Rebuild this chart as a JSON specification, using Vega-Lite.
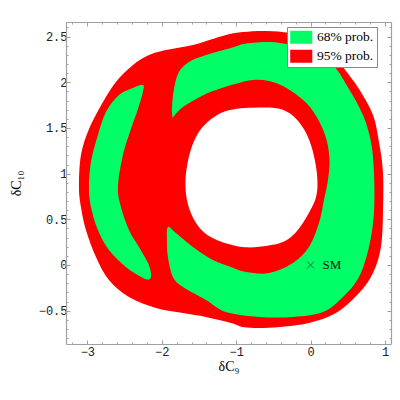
{
  "$schema": "https://vega.github.io/schema/vega-lite/v6.json",
  "width": 325,
  "height": 322,
  "autosize": {"type": "none"},
  "padding": {"left": 66, "top": 22, "right": 9, "bottom": 56},
  "background": "white",
  "config": {
    "view": {"stroke": null},
    "axis": {
      "domainColor": "#a0a0a0",
      "domainWidth": 1.2,
      "tickColor": "#a0a0a0",
      "tickWidth": 1,
      "grid": false,
      "labelFont": "Liberation Mono",
      "labelFontSize": 12,
      "labelColor": "#222222",
      "labelOverlap": false,
      "labelFlush": false,
      "titleFont": "Liberation Serif",
      "titleFontSize": 14,
      "titleFontWeight": "normal",
      "titleColor": "#000000"
    }
  },
  "data": {"values": [
    {"s":"r","p":"95% prob.","x":-0.599,"y":2.562},{"s":"r","p":"95% prob.","x":-0.909,"y":2.551},{"s":"r","p":"95% prob.","x":-1.137,"y":2.518},{"s":"r","p":"95% prob.","x":-1.581,"y":2.409},{"s":"r","p":"95% prob.","x":-1.944,"y":2.354},{"s":"r","p":"95% prob.","x":-2.172,"y":2.299},{"s":"r","p":"95% prob.","x":-2.387,"y":2.19},{"s":"r","p":"95% prob.","x":-2.616,"y":2.004},{"s":"r","p":"95% prob.","x":-2.79,"y":1.785},{"s":"r","p":"95% prob.","x":-2.978,"y":1.489},{"s":"r","p":"95% prob.","x":-3.086,"y":1.204},{"s":"r","p":"95% prob.","x":-3.113,"y":0.854},{"s":"r","p":"95% prob.","x":-3.086,"y":0.635},{"s":"r","p":"95% prob.","x":-3.019,"y":0.383},{"s":"r","p":"95% prob.","x":-2.884,"y":0.088},{"s":"r","p":"95% prob.","x":-2.71,"y":-0.164},{"s":"r","p":"95% prob.","x":-2.441,"y":-0.35},{"s":"r","p":"95% prob.","x":-2.078,"y":-0.471},{"s":"r","p":"95% prob.","x":-1.715,"y":-0.526},{"s":"r","p":"95% prob.","x":-1.406,"y":-0.569},{"s":"r","p":"95% prob.","x":-1.07,"y":-0.635},{"s":"r","p":"95% prob.","x":-0.909,"y":-0.679},{"s":"r","p":"95% prob.","x":-0.694,"y":-0.69},{"s":"r","p":"95% prob.","x":-0.411,"y":-0.679},{"s":"r","p":"95% prob.","x":-0.022,"y":-0.635},{"s":"r","p":"95% prob.","x":0.341,"y":-0.526},{"s":"r","p":"95% prob.","x":0.651,"y":-0.307},{"s":"r","p":"95% prob.","x":0.839,"y":-0.088},{"s":"r","p":"95% prob.","x":0.946,"y":0.197},{"s":"r","p":"95% prob.","x":0.973,"y":0.569},{"s":"r","p":"95% prob.","x":0.973,"y":1.018},{"s":"r","p":"95% prob.","x":0.919,"y":1.347},{"s":"r","p":"95% prob.","x":0.839,"y":1.642},{"s":"r","p":"95% prob.","x":0.651,"y":1.927},{"s":"r","p":"95% prob.","x":0.435,"y":2.168},{"s":"r","p":"95% prob.","x":0.261,"y":2.354},{"s":"r","p":"95% prob.","x":0.019,"y":2.475},{"s":"r","p":"95% prob.","x":-0.277,"y":2.54},

    {"s":"gL","p":"68% prob.","x":-2.253,"y":1.971},{"s":"gL","p":"68% prob.","x":-2.387,"y":1.938},{"s":"gL","p":"68% prob.","x":-2.575,"y":1.861},{"s":"gL","p":"68% prob.","x":-2.75,"y":1.675},{"s":"gL","p":"68% prob.","x":-2.858,"y":1.423},{"s":"gL","p":"68% prob.","x":-2.952,"y":1.128},{"s":"gL","p":"68% prob.","x":-2.978,"y":0.854},{"s":"gL","p":"68% prob.","x":-2.952,"y":0.635},{"s":"gL","p":"68% prob.","x":-2.858,"y":0.383},{"s":"gL","p":"68% prob.","x":-2.71,"y":0.164},{"s":"gL","p":"68% prob.","x":-2.482,"y":-0.022},{"s":"gL","p":"68% prob.","x":-2.253,"y":-0.142},{"s":"gL","p":"68% prob.","x":-2.159,"y":-0.153},{"s":"gL","p":"68% prob.","x":-2.145,"y":-0.088},{"s":"gL","p":"68% prob.","x":-2.185,"y":0.022},{"s":"gL","p":"68% prob.","x":-2.306,"y":0.197},{"s":"gL","p":"68% prob.","x":-2.441,"y":0.383},{"s":"gL","p":"68% prob.","x":-2.548,"y":0.635},{"s":"gL","p":"68% prob.","x":-2.589,"y":0.854},{"s":"gL","p":"68% prob.","x":-2.522,"y":1.204},{"s":"gL","p":"68% prob.","x":-2.414,"y":1.489},{"s":"gL","p":"68% prob.","x":-2.32,"y":1.708},{"s":"gL","p":"68% prob.","x":-2.253,"y":1.894},

    {"s":"gC","p":"68% prob.","x":-1.849,"y":1.599},{"s":"gC","p":"68% prob.","x":-1.863,"y":1.708},{"s":"gC","p":"68% prob.","x":-1.836,"y":1.927},{"s":"gC","p":"68% prob.","x":-1.769,"y":2.113},{"s":"gC","p":"68% prob.","x":-1.634,"y":2.223},{"s":"gC","p":"68% prob.","x":-1.406,"y":2.299},{"s":"gC","p":"68% prob.","x":-1.07,"y":2.376},{"s":"gC","p":"68% prob.","x":-0.868,"y":2.425},{"s":"gC","p":"68% prob.","x":-0.559,"y":2.442},{"s":"gC","p":"68% prob.","x":-0.331,"y":2.42},{"s":"gC","p":"68% prob.","x":-0.008,"y":2.365},{"s":"gC","p":"68% prob.","x":0.301,"y":2.19},{"s":"gC","p":"68% prob.","x":0.516,"y":1.927},{"s":"gC","p":"68% prob.","x":0.704,"y":1.642},{"s":"gC","p":"68% prob.","x":0.812,"y":1.347},{"s":"gC","p":"68% prob.","x":0.852,"y":1.018},{"s":"gC","p":"68% prob.","x":0.852,"y":0.569},{"s":"gC","p":"68% prob.","x":0.785,"y":0.197},{"s":"gC","p":"68% prob.","x":0.651,"y":-0.131},{"s":"gC","p":"68% prob.","x":0.435,"y":-0.35},{"s":"gC","p":"68% prob.","x":0.167,"y":-0.515},{"s":"gC","p":"68% prob.","x":-0.237,"y":-0.569},{"s":"gC","p":"68% prob.","x":-0.694,"y":-0.569},{"s":"gC","p":"68% prob.","x":-1.137,"y":-0.515},{"s":"gC","p":"68% prob.","x":-1.406,"y":-0.383},{"s":"gC","p":"68% prob.","x":-1.715,"y":-0.241},{"s":"gC","p":"68% prob.","x":-1.849,"y":-0.131},{"s":"gC","p":"68% prob.","x":-1.917,"y":0.088},{"s":"gC","p":"68% prob.","x":-1.93,"y":0.274},{"s":"gC","p":"68% prob.","x":-1.917,"y":0.416},{"s":"gC","p":"68% prob.","x":-1.809,"y":0.35},{"s":"gC","p":"68% prob.","x":-1.581,"y":0.197},{"s":"gC","p":"68% prob.","x":-1.312,"y":0.055},{"s":"gC","p":"68% prob.","x":-1.07,"y":-0.022},{"s":"gC","p":"68% prob.","x":-0.868,"y":-0.077},{"s":"gC","p":"68% prob.","x":-0.559,"y":-0.088},{"s":"gC","p":"68% prob.","x":-0.237,"y":0.022},{"s":"gC","p":"68% prob.","x":-0.022,"y":0.197},{"s":"gC","p":"68% prob.","x":0.113,"y":0.46},{"s":"gC","p":"68% prob.","x":0.18,"y":0.712},{"s":"gC","p":"68% prob.","x":0.234,"y":0.931},{"s":"gC","p":"68% prob.","x":0.255,"y":1.15},{"s":"gC","p":"68% prob.","x":0.215,"y":1.369},{"s":"gC","p":"68% prob.","x":0.126,"y":1.555},{"s":"gC","p":"68% prob.","x":-0.008,"y":1.73},{"s":"gC","p":"68% prob.","x":-0.183,"y":1.86},{"s":"gC","p":"68% prob.","x":-0.371,"y":1.96},{"s":"gC","p":"68% prob.","x":-0.559,"y":2.015},{"s":"gC","p":"68% prob.","x":-0.774,"y":2.026},{"s":"gC","p":"68% prob.","x":-1.003,"y":1.985},{"s":"gC","p":"68% prob.","x":-1.312,"y":1.905},{"s":"gC","p":"68% prob.","x":-1.487,"y":1.839},{"s":"gC","p":"68% prob.","x":-1.715,"y":1.73},{"s":"gC","p":"68% prob.","x":-1.836,"y":1.632},

    {"s":"h","p":"none","x":-1.618,"y":1.259},{"s":"h","p":"none","x":-1.524,"y":1.445},{"s":"h","p":"none","x":-1.392,"y":1.566},{"s":"h","p":"none","x":-1.215,"y":1.675},{"s":"h","p":"none","x":-0.989,"y":1.719},{"s":"h","p":"none","x":-0.774,"y":1.719},{"s":"h","p":"none","x":-0.546,"y":1.73},{"s":"h","p":"none","x":-0.317,"y":1.697},{"s":"h","p":"none","x":-0.169,"y":1.588},{"s":"h","p":"none","x":-0.048,"y":1.445},{"s":"h","p":"none","x":0.032,"y":1.259},{"s":"h","p":"none","x":0.086,"y":1.04},{"s":"h","p":"none","x":0.099,"y":0.854},{"s":"h","p":"none","x":0.073,"y":0.712},{"s":"h","p":"none","x":-0.022,"y":0.569},{"s":"h","p":"none","x":-0.156,"y":0.383},{"s":"h","p":"none","x":-0.331,"y":0.252},{"s":"h","p":"none","x":-0.505,"y":0.219},{"s":"h","p":"none","x":-0.694,"y":0.197},{"s":"h","p":"none","x":-0.868,"y":0.186},{"s":"h","p":"none","x":-1.07,"y":0.219},{"s":"h","p":"none","x":-1.406,"y":0.307},{"s":"h","p":"none","x":-1.581,"y":0.493},{"s":"h","p":"none","x":-1.675,"y":0.712},{"s":"h","p":"none","x":-1.688,"y":0.931},{"s":"h","p":"none","x":-1.661,"y":1.095},

    {"s":"SM","p":"none","x":0,"y":0,"label":"SM"}
  ]},
  "transform": [{"window": [{"op": "row_number", "as": "i"}]}],
  "layer": [
    {
      "transform": [{"filter": "datum.s === 'r'"}],
      "mark": {"type": "line", "filled": true, "strokeWidth": 0, "interpolate": "cardinal-closed"},
      "encoding": {
        "x": {"field": "x", "type": "quantitative",
          "scale": {"domain": [-3.287, 1.081], "nice": false, "zero": false},
          "axis": {"orient": "bottom", "title": "δC₉",
            "values": [-3.2,-3,-2.8,-2.6,-2.4,-2.2,-2,-1.8,-1.6,-1.4,-1.2,-1,-0.8,-0.6,-0.4,-0.2,0,0.2,0.4,0.6,0.8,1],
            "labelExpr": "abs(datum.value-round(datum.value))<0.01 ? format(datum.value,'d') : ''",
            "tickSize": {"condition": {"test": "abs(datum.value-round(datum.value))<0.01", "value": -4}, "value": -2},
            "labelPadding": 6, "titlePadding": 0}},
        "y": {"field": "y", "type": "quantitative",
          "scale": {"domain": [-0.865, 2.66], "nice": false, "zero": false},
          "axis": {"orient": "left", "title": "δC₁₀",
            "values": [-0.8,-0.7,-0.6,-0.5,-0.4,-0.3,-0.2,-0.1,0,0.1,0.2,0.3,0.4,0.5,0.6,0.7,0.8,0.9,1,1.1,1.2,1.3,1.4,1.5,1.6,1.7,1.8,1.9,2,2.1,2.2,2.3,2.4,2.5,2.6],
            "labelExpr": "abs(datum.value*2-round(datum.value*2))<0.01 ? format(datum.value,'~f') : ''",
            "tickSize": {"condition": {"test": "abs(datum.value*2-round(datum.value*2))<0.01", "value": -4}, "value": -2},
            "labelPadding": 3, "titlePadding": 15}},
        "order": {"field": "i", "type": "quantitative"},
        "fill": {"field": "p", "type": "nominal",
          "scale": {"domain": ["68% prob.", "95% prob."], "range": ["#00FF66", "#FF0000"]},
          "legend": {"title": null, "orient": "none", "legendX": 221, "legendY": 5,
            "direction": "vertical",
            "fillColor": "white", "strokeColor": "#888888", "padding": 3.5,
            "symbolType": "M-1.7,-1H1.7V1H-1.7Z", "symbolSize": 169, "symbolOffset": 4,
            "symbolStrokeWidth": 0, "symbolOpacity": 1,
            "labelFont": "Liberation Serif", "labelFontSize": 13.5, "labelColor": "#000000",
            "labelOffset": 9, "rowPadding": 4}}
      }
    },
    {
      "transform": [{"filter": "datum.s === 'gL'"}],
      "mark": {"type": "line", "filled": true, "strokeWidth": 0, "interpolate": "cardinal-closed"},
      "encoding": {
        "x": {"field": "x", "type": "quantitative",
          "axis": {"orient": "top", "title": null, "labels": false,
            "values": [-3.2,-3,-2.8,-2.6,-2.4,-2.2,-2,-1.8,-1.6,-1.4,-1.2,-1,-0.8,-0.6,-0.4,-0.2,0,0.2,0.4,0.6,0.8,1],
            "tickSize": {"condition": {"test": "abs(datum.value-round(datum.value))<0.01", "value": -4}, "value": -2}}},
        "y": {"field": "y", "type": "quantitative",
          "axis": {"orient": "right", "title": null, "labels": false,
            "values": [-0.8,-0.7,-0.6,-0.5,-0.4,-0.3,-0.2,-0.1,0,0.1,0.2,0.3,0.4,0.5,0.6,0.7,0.8,0.9,1,1.1,1.2,1.3,1.4,1.5,1.6,1.7,1.8,1.9,2,2.1,2.2,2.3,2.4,2.5,2.6],
            "tickSize": {"condition": {"test": "abs(datum.value*2-round(datum.value*2))<0.01", "value": -4}, "value": -2}}},
        "order": {"field": "i", "type": "quantitative"},
        "fill": {"field": "p", "type": "nominal"}
      }
    },
    {
      "transform": [{"filter": "datum.s === 'gC'"}],
      "mark": {"type": "line", "filled": true, "strokeWidth": 0, "interpolate": "cardinal-closed"},
      "encoding": {
        "x": {"field": "x", "type": "quantitative", "axis": null},
        "y": {"field": "y", "type": "quantitative", "axis": null},
        "order": {"field": "i", "type": "quantitative"},
        "fill": {"field": "p", "type": "nominal"}
      }
    },
    {
      "transform": [{"filter": "datum.s === 'h'"}],
      "mark": {"type": "line", "filled": true, "fill": "#FFFFFF", "strokeWidth": 0, "interpolate": "basis-closed"},
      "encoding": {
        "x": {"field": "x", "type": "quantitative", "axis": null},
        "y": {"field": "y", "type": "quantitative", "axis": null},
        "order": {"field": "i", "type": "quantitative"}
      }
    },
    {
      "transform": [{"filter": "datum.s === 'SM'"}],
      "mark": {"type": "point", "shape": "M-1,-1L1,1M-1,1L1,-1", "size": 49, "filled": false, "stroke": "#2a4a35", "strokeWidth": 0.8, "opacity": 1},
      "encoding": {
        "x": {"field": "x", "type": "quantitative", "axis": null},
        "y": {"field": "y", "type": "quantitative", "axis": null}
      }
    },
    {
      "transform": [{"filter": "datum.s === 'SM'"}],
      "mark": {"type": "text", "align": "left", "baseline": "middle", "dx": 12, "font": "Liberation Serif", "fontSize": 13, "color": "#111111"},
      "encoding": {
        "x": {"field": "x", "type": "quantitative", "axis": null},
        "y": {"field": "y", "type": "quantitative", "axis": null},
        "text": {"field": "label"}
      }
    }
  ],
  "resolve": {"axis": {"x": "independent", "y": "independent"}}
}
